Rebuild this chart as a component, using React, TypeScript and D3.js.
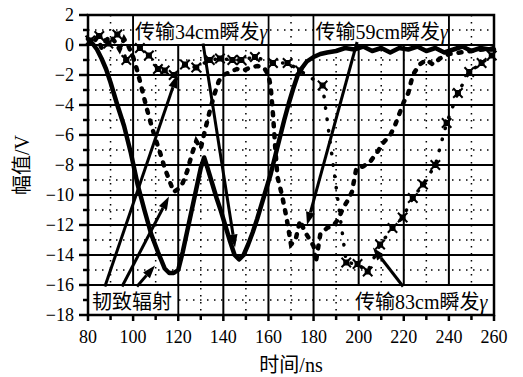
import React from 'react';
import * as d3 from 'd3';

// axis ticks
const xTicks = [80, 100, 120, 140, 160, 180, 200, 220, 240, 260];
const xMinor = [90, 110, 130, 150, 170, 190, 210, 230, 250];
const yTicks = [2, 0, -2, -4, -6, -8, -10, -12, -14, -16, -18];
const yMinor = [1, -1, -3, -5, -7, -9, -11, -13, -15, -17];

// trace 1: solid line (34cm)
const s34Time = [80, 82, 84, 86, 88, 90, 93, 96, 99, 102, 105, 108, 111, 114, 116, 118, 120, 122, 124, 126, 128, 130,
  131.5, 133, 135, 137, 139, 141, 143, 145, 147, 149, 151, 153, 155, 157, 159, 161, 163, 165, 167, 169, 171, 173, 175, 177,
  180, 183, 186, 190, 194, 198, 202, 206, 210, 214, 218, 222, 226, 230, 234, 238, 242, 246, 250, 254, 258, 260];
const s34Volt = [0.3, 0.1, -0.3, -0.9, -1.6, -2.5, -4.0, -5.4, -7.2, -9.3, -11.0, -12.6, -13.8, -14.9, -15.2, -15.2, -15.0,
  -13.8, -12.4, -11.0, -9.6, -8.2, -7.5, -8.2, -9.2, -10.2, -11.1, -12.1, -13.1, -14.0, -14.3, -14.0, -13.3, -12.5, -11.6,
  -10.6, -9.6, -8.6, -7.4, -6.2, -5.0, -3.9, -2.9, -2.0, -1.5, -1.1, -0.8, -0.6, -0.5, -0.4, -0.2, -0.3, -0.1, -0.4, -0.2,
  -0.5, -0.2, -0.3, -0.1, -0.4, -0.2, -0.5, -0.3, -0.1, -0.4, -0.2, -0.3, -0.2];

// trace 2: dash-dot (59cm)
const s59Time = [80, 82, 84, 86, 88, 90, 92, 94, 96, 98, 100, 102, 104, 106, 108, 110, 112, 114, 116, 118, 120, 122, 124,
  126, 128, 130, 132, 134, 136, 138, 140, 143, 146, 149, 152, 155, 158, 160, 161, 162, 163, 164, 166, 168, 170, 172, 174,
  176, 178, 180, 181, 183, 186, 189, 191, 193, 195, 197, 199, 202, 205, 208, 211, 214, 216, 218, 220, 222, 224, 227, 230,
  233, 236, 240, 245, 250, 255, 260];
const s59Volt = [0.4, 0.1, 0.5, -0.2, 0.3, 0.6, 0.2, -0.3, 0.4, -0.1, -0.8, -1.8, -3.0, -4.2, -5.3, -6.3, -7.2, -8.2, -9.0,
  -9.8, -9.6, -9.2, -8.4, -7.3, -6.4, -6.9, -5.6, -4.4, -3.3, -2.4, -2.0, -1.8, -1.6, -1.7, -1.5, -1.4, -1.5, -2.0, -2.8,
  -4.6, -6.8, -8.8, -10.0, -11.5, -13.3, -13.0, -11.7, -12.4, -12.9, -13.4, -14.5, -12.6, -12.2, -12.0, -11.6, -10.9,
  -10.4, -9.8, -8.2, -8.1, -7.8, -7.2, -6.5, -6.0, -5.4, -4.6, -3.8, -3.2, -2.0, -1.3, -1.0, -1.3, -0.9, -0.6, -0.5, -0.4,
  -0.3, -0.3];

// trace 3: markers (83cm)
const s83Time = [81, 85, 89, 93, 97, 103, 107, 111, 114, 118, 123, 128, 134, 138.5, 144, 148, 154, 162, 168.5, 174, 184,
  194.5, 199.5, 204, 209.5, 215, 219.5, 224, 228.5, 234, 239, 244, 249, 254.5, 259];
const s83Volt = [0.3, 0.6, 0.1, 0.7, -1.0, -0.2, -0.7, -1.6, -1.7, -2.0, -1.3, -1.5, -1.0, -0.9, -1.0, -1.0, -0.8, -1.2,
  -1.2, -1.7, -2.7, -14.5, -14.6, -15.1, -13.3, -12.2, -11.5, -10.2, -9.3, -8.0, -5.2, -3.2, -1.8, -1.2, -0.7];

// annotation arrows [fromTime, fromVolt, toTime, toVolt]
const arrows = [
  [87.5, -16.1, 119.5, -2.0],
  [95.1, -16.1, 115.9, -10.1],
  [101.7, -16.1, 109.7, -14.7],
  [131, 0.1, 145.2, -13.5],
  [199.3, 0.2, 177.1, -12.0],
  [219.7, -16.1, 206.3, -13.5],
];

// label boxes [t0, t1, v0, v1, text, gamma]
const labels: [number, number, number, number, string, boolean][] = [
  [100, 160, 0, 2, '传输34cm瞬发', true],
  [180, 240, 0, 2, '传输59cm瞬发', true],
  [80, 120, -18, -16, '韧致辐射', false],
  [197.5, 260, -18, -16, '传输83cm瞬发', true],
];

const font = "'Liberation Serif', 'Noto Sans CJK SC', serif";

export default function App() {
  const x = d3.scaleLinear().domain([80, 260]).range([88, 494]);
  const y = d3.scaleLinear().domain([-18, 2]).range([315, 15]);

  const path = (ts: number[], vs: number[]) =>
    d3.line<number>().x(t => x(t)).y((t, i) => y(vs[i]))(ts) || '';

  const minus = (v: number) => (v < 0 ? '\u2212' + Math.abs(v) : String(v));
  const [x0, x1] = x.range();
  const [y0, y1] = y.range();

  return (
    <svg width={523} height={377} style={{ position: 'absolute', left: 0, top: 0, background: '#fff' }}
      fontFamily={font}>
      {/* dotted grid */}
      {xMinor.map(t => (
        <line key={'xm' + t} x1={x(t)} x2={x(t)} y1={y1} y2={y0} stroke="#000" strokeWidth={1.5} strokeDasharray="1.5 5.5" />
      ))}
      {yMinor.map(v => (
        <line key={'ym' + v} x1={x0} x2={x1} y1={y(v)} y2={y(v)} stroke="#000" strokeWidth={1.5} strokeDasharray="1.5 5.5" />
      ))}
      {/* solid grid */}
      {xTicks.map(t => (
        <line key={'xg' + t} x1={x(t)} x2={x(t)} y1={y1} y2={y0} stroke="#000" strokeWidth={2} />
      ))}
      {yTicks.map(v => (
        <line key={'yg' + v} x1={x0} x2={x1} y1={y(v)} y2={y(v)} stroke="#000" strokeWidth={2} />
      ))}

      {/* label boxes */}
      {labels.map(([t0, t1, v0, v1]) => (
        <rect key={'b' + t0 + v0} x={x(t0) + 1} y={y(v1) + 1} width={x(t1) - x(t0) - 2} height={y(v0) - y(v1) - 2} fill="#fff" />
      ))}

      {/* traces */}
      <path d={path(s34Time, s34Volt)} fill="none" stroke="#000" strokeWidth={4.5} strokeLinejoin="round" />
      <path d={path(s59Time, s59Volt)} fill="none" stroke="#000" strokeWidth={4.5} strokeDasharray="3 8" strokeLinecap="round" />
      <path d={path(s83Time, s83Volt)} fill="none" stroke="#000" strokeWidth={3.5} strokeDasharray="0.5 11" strokeLinecap="round" />
      {s83Time.map((t, i) => (
        <g key={'m' + t} transform={`translate(${x(t)},${y(s83Volt[i])})`}>
          <path d={d3.symbol(d3.symbolSquare, 36)() || ''} fill="#000" />
          <path d={d3.symbol(d3.symbolX, 60)() || ''} stroke="#000" strokeWidth={2} />
        </g>
      ))}

      {/* arrows */}
      {arrows.map(([ta, va, tb, vb], i) => {
        const ax = x(ta), ay = y(va), bx = x(tb), by = y(vb);
        const len = Math.hypot(bx - ax, by - ay);
        const ux = (bx - ax) / len, uy = (by - ay) / len;
        const hl = 13, hw = 4.5;
        const cx = bx - ux * hl, cy = by - uy * hl;
        return (
          <g key={'a' + i}>
            <line x1={ax} y1={ay} x2={cx} y2={cy} stroke="#000" strokeWidth={3} />
            <polygon points={`${bx},${by} ${cx - uy * hw},${cy + ux * hw} ${cx + uy * hw},${cy - ux * hw}`} fill="#000" />
          </g>
        );
      })}

      {/* label text */}
      {labels.map(([t0, t1, v0, v1, txt, gamma]) => (
        <text key={'l' + t0 + v0} x={x(t0) + (v0 < -10 ? (t0 < 100 ? 4 : 2) : 2)} y={y(v0) - 6} fontSize={20}>
          {txt}
          {gamma && <tspan fontStyle="italic">γ</tspan>}
        </text>
      ))}

      {/* frame */}
      <rect x={x0} y={y1} width={x1 - x0} height={y0 - y1} fill="none" stroke="#000" strokeWidth={2.5} />

      {/* ticks */}
      {yTicks.map(v => (
        <line key={'yt' + v} x1={x0 - 9} x2={x0} y1={y(v)} y2={y(v)} stroke="#000" strokeWidth={2.5} />
      ))}
      {yMinor.map(v => (
        <line key={'ytm' + v} x1={x0 - 5} x2={x0} y1={y(v)} y2={y(v)} stroke="#000" strokeWidth={2.5} />
      ))}
      {xTicks.map(t => (
        <line key={'xt' + t} x1={x(t)} x2={x(t)} y1={y0} y2={y0 + 6} stroke="#000" strokeWidth={2.5} />
      ))}
      {xMinor.map(t => (
        <line key={'xtm' + t} x1={x(t)} x2={x(t)} y1={y0} y2={y0 + 5} stroke="#000" strokeWidth={2.5} />
      ))}

      {/* tick labels */}
      {yTicks.map(v => (
        <text key={'yl' + v} x={74} y={y(v)} dy="0.35em" textAnchor="end" fontSize={18}>{minus(v)}</text>
      ))}
      {xTicks.map(t => (
        <text key={'xl' + t} x={x(t)} y={343} textAnchor="middle" fontSize={18}>{t}</text>
      ))}

      {/* axis titles */}
      <text transform={`translate(22,${(y0 + y1) / 2}) rotate(-90)`} textAnchor="middle" dy="0.35em" fontSize={20}>幅值/V</text>
      <text x={(x0 + x1) / 2} y={372} textAnchor="middle" fontSize={20}>时间/ns</text>
    </svg>
  );
}
